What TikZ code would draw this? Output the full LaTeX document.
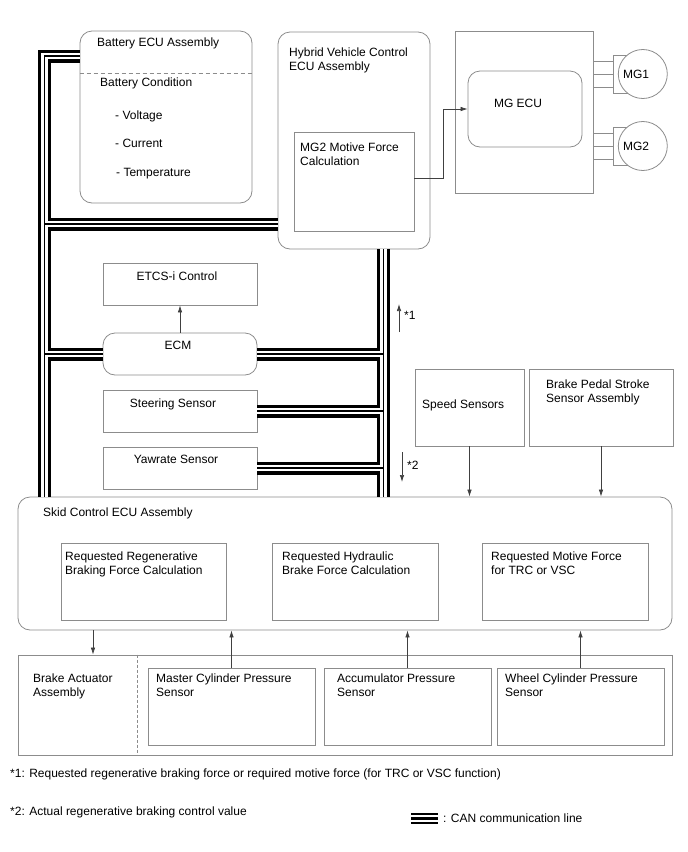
\documentclass[tikz,border=0pt]{standalone}
\usepackage{fontspec}
\setmainfont{Liberation Sans}
\usetikzlibrary{arrows.meta}
\newcommand{\fsz}{\fontsize{12}{13.8}\selectfont}

\tikzset{
  box/.style={draw=black!45, line width=0.8pt, inner sep=0pt},
  rbox/.style={box, rounded corners=12pt},
  txt/.style={anchor=north west, inner sep=0pt, align=left, font=\fsz},
  ctxt/.style={anchor=base, inner sep=0pt, font=\fsz},
  arr/.style={draw=black!75, line width=0.7pt, -{Latex[length=7pt,width=4.5pt]}},
  wire/.style={draw=black!45, line width=0.8pt},
  sep/.style={draw=black!45, line width=0.7pt, dash pattern=on 4pt off 3pt},
}

\begin{document}
\begin{tikzpicture}[x=1pt,y=-1pt]
\useasboundingbox (0,0) rectangle (688,852);

% upper units
\node[rbox, minimum width=172pt, minimum height=172pt] (batt) at (166,117) {};
\node[rbox, minimum width=152pt, minimum height=217pt] (hv) at (354,140.5) {};
\node[box, minimum width=120pt, minimum height=99pt] (mgcalc) at (354,181.5) {};
\node[box, minimum width=138pt, minimum height=162pt] (mgbox) at (524,112) {};
\node[rbox, minimum width=114pt, minimum height=76pt] (mgecu) at (525,109) {};
\node[box, fill=white, minimum width=17pt, minimum height=38pt] (term1) at (621.5,74) {};
\node[box, fill=white, minimum width=17pt, minimum height=38pt] (term2) at (621.5,146) {};
\node[box, circle, fill=white, minimum size=49pt] (mg1) at (642.8,74) {};
\node[box, circle, fill=white, minimum size=49pt] (mg2) at (642.8,146) {};

% middle units
\node[box, minimum width=154pt, minimum height=42pt] (etcs) at (180,284) {};
\node[rbox, minimum width=154pt, minimum height=42pt] (ecm) at (180,354) {};
\node[box, minimum width=154pt, minimum height=42pt] (steer) at (180,411) {};
\node[box, minimum width=154pt, minimum height=42pt] (yaw) at (180,468) {};
\node[box, minimum width=109pt, minimum height=77pt] (speed) at (469.5,407.5) {};
\node[box, minimum width=144pt, minimum height=77pt] (pedal) at (601,407.5) {};

% skid control ecu and actuator
\node[rbox, minimum width=654pt, minimum height=133pt] (skid) at (345,563.5) {};
\node[box, minimum width=165pt, minimum height=77pt] (regen) at (143.5,581.5) {};
\node[box, minimum width=166pt, minimum height=77pt] (hydr) at (355,581.5) {};
\node[box, minimum width=166pt, minimum height=77pt] (motive) at (565,581.5) {};
\node[box, minimum width=654pt, minimum height=100pt] (act) at (345,705) {};
\node[box, minimum width=167pt, minimum height=77pt] (master) at (231.5,706.5) {};
\node[box, minimum width=167pt, minimum height=77pt] (accum) at (407.5,706.5) {};
\node[box, minimum width=167pt, minimum height=77pt] (wheel) at (580.5,706.5) {};

% CAN lines
\coordinate (lbus) at (44.5,56);
\coordinate (hvtap) at (44.5,224);
\coordinate (rbus) at (383.5,249);
\foreach \lw/\lc in {13/black, 6.6/white, 1.3/black}
  \draw[line width=\lw pt, draw=\lc]
    (lbus -| batt.west) -- (lbus) -- (lbus |- skid.north)
    (hvtap) -- (hvtap -| hv.west)
    (ecm.west) -- (ecm.west -| lbus)
    (rbus) -- (rbus |- skid.north)
    (ecm.east) -- (ecm.east -| rbus)
    (steer.east) -- (steer.east -| rbus)
    (yaw.east) -- (yaw.east -| rbus);

% separators
\coordinate (battsep) at (0,73);
\coordinate (actsep) at (137,0);
\draw[sep] (battsep -| batt.west) -- (battsep -| batt.east);
\draw[sep, dash pattern=on 3pt off 2pt] (actsep |- act.north) -- (actsep |- act.south);

% motor wires
\foreach \m in {1,2}
  \foreach \d in {-13,0,13}
    \draw[wire] ([yshift=\d pt]term\m.west -| mgbox.east) -- ([yshift=\d pt]term\m.west);

% signal arrows
\coordinate (mgbend) at (443,178);
\coordinate (acttap) at (93,0);
\coordinate (s1a) at (399,332);
\coordinate (s1b) at (399,304);
\coordinate (s2a) at (402,452);
\coordinate (s2b) at (402,482);
\draw[arr] (mgbend -| mgcalc.east) -- (mgbend) |- (mgecu.west);
\draw[arr] (ecm.north) -- (etcs.south);
\draw[arr] (speed.south) -- (speed.south |- skid.north);
\draw[arr] (pedal.south) -- (pedal.south |- skid.north);
\draw[arr] (acttap |- skid.south) -- (acttap |- act.north);
\draw[arr] (master.north) -- (master.north |- skid.south);
\draw[arr] (accum.north) -- (accum.north |- skid.south);
\draw[arr] (wheel.north) -- (wheel.north |- skid.south);
\draw[arr] (s1a) -- (s1b);
\draw[arr] (s2a) -- (s2b);

% texts
\node[txt] (batt-t) at (97,37.5) {Battery ECU Assembly};
\node[txt] (cond-t) at (100,77.5) {Battery Condition};
\node[txt] (volt-t) at (115,110.5) {- Voltage};
\node[txt] (curr-t) at (115,138.5) {- Current};
\node[txt] (temp-t) at (116,168.5) {- Temperature};
\node[txt] (hv-t) at (289,47.5) {Hybrid Vehicle Control\\ECU Assembly};
\node[txt] (mgcalc-t) at (300,142.5) {MG2 Motive Force\\Calculation};
\node[ctxt] (mgecu-t) at (518,107.3) {MG ECU};
\node[ctxt] (mg1-t) at (636,78.3) {MG1};
\node[ctxt] (mg2-t) at (636,150.3) {MG2};
\node[ctxt] (etcs-t) at (177,280.3) {ETCS-i Control};
\node[ctxt] (ecm-t) at (178,349.3) {ECM};
\node[ctxt] (steer-t) at (173,407.3) {Steering Sensor};
\node[ctxt] (yaw-t) at (176,463.3) {Yawrate Sensor};
\node[anchor=west, inner sep=0pt, font=\fsz] (star1) at (404,315) {*1};
\node[anchor=west, inner sep=0pt, font=\fsz] (star2) at (407,465) {*2};
\node[txt] (speed-t) at (422,399.5) {Speed Sensors};
\node[txt] (pedal-t) at (546,379.5) {Brake Pedal Stroke\\Sensor Assembly};
\node[txt] (skid-t) at (43,507.5) {Skid Control ECU Assembly};
\node[txt] (regen-t) at (65,551.5) {Requested Regenerative\\Braking Force Calculation};
\node[txt] (hydr-t) at (282,551.5) {Requested Hydraulic\\Brake Force Calculation};
\node[txt] (motive-t) at (491,551.5) {Requested Motive Force\\for TRC or VSC};
\node[txt] (act-t) at (33,673.5) {Brake Actuator\\Assembly};
\node[txt] (master-t) at (156,673.5) {Master Cylinder Pressure\\Sensor};
\node[txt] (accum-t) at (337,673.5) {Accumulator Pressure\\Sensor};
\node[txt] (wheel-t) at (505,673.5) {Wheel Cylinder Pressure\\Sensor};

% notes and legend
\node[txt] (note1) at (10,768.5) {*1: Requested regenerative braking force or required motive force (for TRC or VSC function)};
\node[txt] (note2) at (10,806.5) {*2: Actual regenerative braking control value};
\foreach \ly in {814,818.5,823}
  \draw[line width=2.4pt] (411,\ly) -- (438,\ly);
\node[txt] (legend-t) at (443,813.5) {: CAN communication line};
\end{tikzpicture}
\end{document}
